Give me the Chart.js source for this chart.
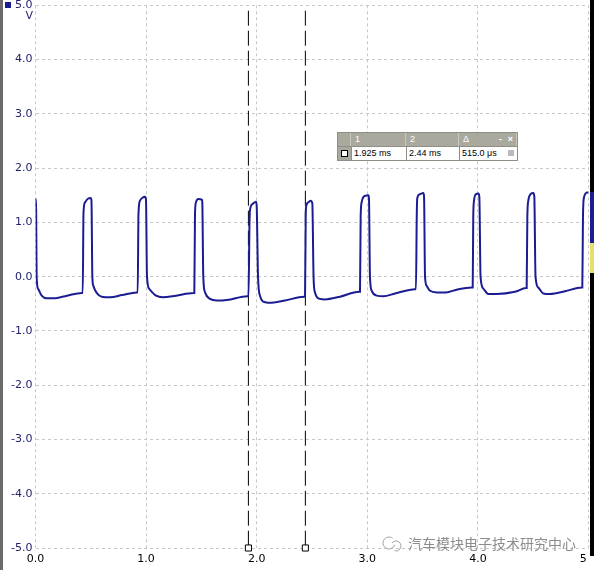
<!DOCTYPE html>
<html lang="en">
<head>
    <meta charset="UTF-8">
    <title>Scope trace</title>
    <script src="https://cdn.jsdelivr.net/npm/chart.js"></script>
    <style>
        body { margin: 0; background: #fff; }
        #wrap { position: relative; width: 594px; height: 570px; }
        #scope { position: absolute; left: 0; top: 0; }
        #readout {
            position: absolute; left: 337px; top: 132px; width: 179px;
            border: 1px solid #8e8e86; background: #a9a99d;
            font: 9px "Liberation Sans", Arial, sans-serif; color: #000;
        }
        #readout .row { display: flex; height: 13px; line-height: 13px; }
        #readout .head span { color: #fff; border-right: 1px solid #c9c9bf; padding-left: 4px; box-sizing: border-box; }
        #readout .data { border-top: 1px solid #8e8e86; }
        #readout .data span { background: #fff; border-left: 1px solid #8e8e86; padding-left: 2px; box-sizing: border-box; }
        #readout .c0 { width: 13px; }
        #readout .c1 { width: 55px; }
        #readout .c2 { width: 53px; }
        #readout .c3 { width: 58px; position: relative; }
        #readout .data .c0 { background: #a9a99d; border-left: none; position: relative; }
        .box { position: absolute; left: 3px; top: 3px; width: 5px; height: 5px; border: 1px solid #000; background: #fff; }
        .ctl { position: absolute; top: 0; font-weight: bold; color: #fff; }
        .lock { position: absolute; right: 3px; top: 3px; width: 6px; height: 6px; background: #bbb; }
    </style>
</head>
<body>
<div id="wrap">
    <canvas id="scope" width="594" height="570"></canvas>
    <div id="readout">
        <div class="row head">
            <span class="c0"></span><span class="c1">1</span><span class="c2">2</span><span class="c3">&Delta;<b class="ctl" style="right:14px">-</b><b class="ctl" style="right:3px">&times;</b></span>
        </div>
        <div class="row data">
            <span class="c0"><i class="box"></i></span><span class="c1">1.925 ms</span><span class="c2">2.44 ms</span><span class="c3">515.0 &mu;s<i class="lock"></i></span>
        </div>
    </div>
</div>

<script>
    // trace, one line per pulse (time in ms, volts)
    const traceMs = [
        0.000, 0.006, 0.010, 0.025, 0.056, 0.101, 0.161, 0.285, 0.418,
        0.427, 0.434, 0.448, 0.477, 0.499, 0.506, 0.514, 0.523, 0.553, 0.599, 0.674, 0.782, 0.915,
        0.924, 0.931, 0.945, 0.972, 0.990, 0.999, 1.008, 1.030, 1.090, 1.150, 1.270, 1.427,
        1.436, 1.442, 1.451, 1.472, 1.503, 1.508, 1.517, 1.533, 1.578, 1.638, 1.731, 1.916,
        1.926, 1.935, 1.939, 1.964, 1.994, 2.000, 2.012, 2.030, 2.075, 2.138, 2.256, 2.428,
        2.437, 2.443, 2.446, 2.467, 2.488, 2.503, 2.514, 2.527, 2.572, 2.617, 2.753, 2.925,
        2.934, 2.940, 2.949, 2.979, 3.009, 3.015, 3.024, 3.040, 3.085, 3.145, 3.251, 3.431,
        3.440, 3.447, 3.452, 3.476, 3.506, 3.513, 3.522, 3.537, 3.567, 3.628, 3.712, 3.808, 3.944,
        3.953, 3.958, 3.965, 3.983, 4.004, 4.013, 4.024, 4.049, 4.094, 4.170, 4.335, 4.435,
        4.441, 4.447, 4.456, 4.477, 4.501, 4.510, 4.521, 4.546, 4.591, 4.652, 4.787, 4.938,
        4.944, 4.950, 4.959, 4.989, 5.000
    ];
    const traceV = [
        1.44, 1.20, 0.00, -0.23, -0.35, -0.40, -0.40, -0.35, -0.30,
        -0.30, 1.18, 1.37, 1.44, 1.45, 1.40, 0.00, -0.17, -0.30, -0.37, -0.38, -0.34, -0.29,
        -0.29, 1.15, 1.40, 1.46, 1.47, 1.42, 0.00, -0.23, -0.35, -0.38, -0.35, -0.30,
        -0.30, 1.15, 1.37, 1.43, 1.42, 1.38, 0.00, -0.29, -0.41, -0.44, -0.43, -0.36,
        -0.36, 1.00, 1.22, 1.34, 1.38, 1.30, 0.00, -0.35, -0.47, -0.48, -0.44, -0.37,
        -0.37, 1.05, 1.28, 1.37, 1.40, 1.35, 0.00, -0.29, -0.41, -0.42, -0.37, -0.28,
        -0.28, 1.10, 1.37, 1.49, 1.50, 1.45, 0.00, -0.26, -0.35, -0.36, -0.31, -0.23,
        -0.23, 1.10, 1.45, 1.52, 1.54, 1.48, 0.00, -0.17, -0.26, -0.29, -0.29, -0.24, -0.20,
        -0.20, 1.10, 1.40, 1.52, 1.53, 1.47, 0.00, -0.22, -0.32, -0.32, -0.28, -0.21,
        -0.21, 1.10, 1.40, 1.52, 1.54, 1.48, 0.00, -0.20, -0.31, -0.32, -0.27, -0.20,
        -0.20, 1.10, 1.46, 1.55, 1.55
    ];
    const cursorMs = [1.925, 2.44];
    const cursorTop = 4.9;
    const yMin = -5, yMax = 5;
    const xMin = 0, xMax = 5;
    const watermark = '汽车模块电子技术研究中心';

    const navy = '#1c1c92';

    const tracePts = traceMs.map((t, i) => ({ x: t, y: traceV[i] }));

    const cursorSets = cursorMs.map(t => ({
        data: [{ x: t, y: cursorTop }, { x: t, y: yMin }],
        borderColor: '#000',
        borderWidth: 1,
        borderDash: [15, 5],
        pointRadius: [0, 4.3],
        pointStyle: 'rect',
        pointBackgroundColor: '#fff',
        pointBorderColor: '#000',
        pointBorderWidth: 1,
        clip: false
    }));

    // frame bits around the plot: window edge, channel mark, unit, right edge, watermark
    const decor = {
        id: 'decor',
        afterDraw(chart) {
            const c = chart.ctx;
            c.save();
            c.fillStyle = '#6a6a6a';
            c.fillRect(0, 0, 3, 570);
            c.fillStyle = navy;
            c.fillRect(5, 2, 6, 6);
            c.font = '11px "DejaVu Sans"';
            c.fillStyle = '#22226e';
            c.textAlign = 'right';
            c.textBaseline = 'middle';
            c.fillText('V', 33, 16);
            c.fillStyle = '#000';
            c.fillRect(590, 0, 4, 556);
            c.fillStyle = navy;
            c.fillRect(590, 192, 4, 51);
            c.fillStyle = '#e6df6a';
            c.fillRect(590, 243, 4, 30);
            // watermark
            c.strokeStyle = '#a0a0a0';
            c.lineWidth = 1;
            c.beginPath(); c.arc(389, 543, 6, 0.3, Math.PI * 1.7); c.stroke();
            c.beginPath(); c.arc(396, 546, 5, Math.PI * 1.2, Math.PI * 2.6); c.stroke();
            c.font = '14px "Noto Sans CJK SC"';
            c.fillStyle = '#8c8c8c';
            c.textAlign = 'left';
            c.fillText(watermark, 408, 544);
            c.restore();
        }
    };

    const ctx = document.getElementById('scope').getContext('2d');
    new Chart(ctx, {
        type: 'line',
        data: {
            datasets: [
                {
                    data: tracePts,
                    borderColor: navy,
                    borderWidth: 2,
                    pointRadius: 0,
                    cubicInterpolationMode: 'monotone'
                },
                ...cursorSets
            ]
        },
        options: {
            responsive: false,
            animation: false,
            parsing: true,
            layout: { padding: { left: 0, top: 5, right: 5.5, bottom: 0 } },
            plugins: { legend: { display: false }, tooltip: { enabled: false } },
            scales: {
                x: {
                    type: 'linear',
                    min: xMin, max: xMax,
                    border: { display: false, dash: [3, 3] },
                    grid: { color: '#c8c8c8', lineWidth: 1, drawTicks: false },
                    ticks: {
                        stepSize: 1, autoSkip: false, maxRotation: 0, padding: 5,
                        color: '#000',
                        font: { family: '"DejaVu Sans"', size: 11 },
                        callback: v => v === xMax ? '5   ' : v.toFixed(1)
                    },
                    afterFit(s) {
                        s.height = 22;
                        s.paddingLeft = 0; s.paddingRight = 0;
                    }
                },
                y: {
                    min: yMin, max: yMax,
                    border: { display: false, dash: [3, 3] },
                    grid: { color: '#c8c8c8', lineWidth: 1, drawTicks: false },
                    ticks: {
                        stepSize: 1, padding: 3,
                        color: '#22226e',
                        font: { family: '"DejaVu Sans"', size: 11 },
                        callback: v => v.toFixed(1)
                    },
                    afterFit(s) {
                        s.width = 35.5;
                        s.paddingTop = 0; s.paddingBottom = 0;
                    }
                }
            }
        },
        plugins: [decor]
    });
</script>
</body>
</html>
